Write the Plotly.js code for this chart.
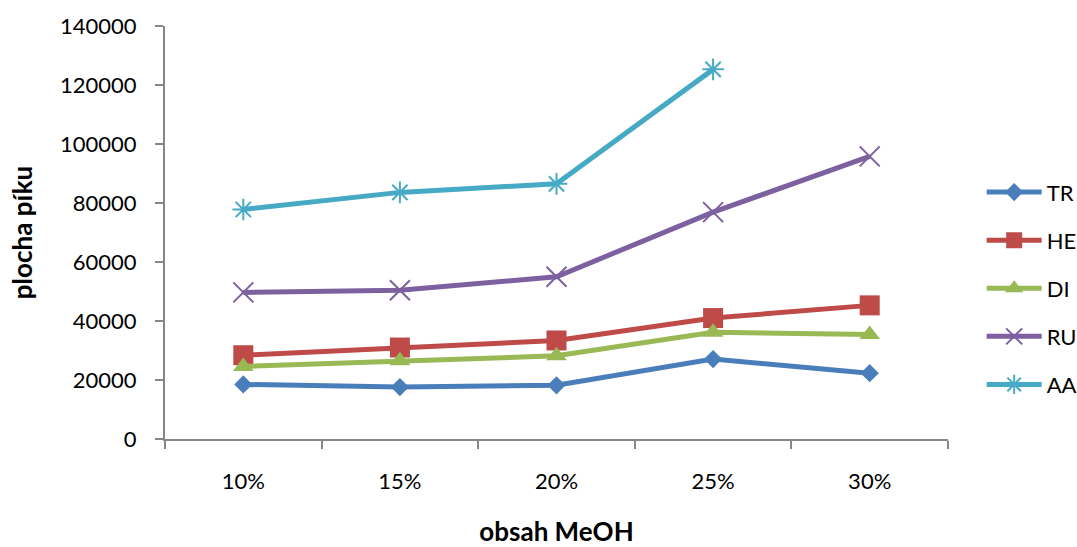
<!DOCTYPE html>
<html>
<head>
<meta charset="utf-8">
<script src="https://cdn.plot.ly/plotly-3.0.1.min.js"></script>
<style>html,body{margin:0;padding:0;background:#fff;}#chart{width:1077px;height:547px;}</style>
</head>
<body>
<div id="chart"></div>
<script>
const categories = ["10%", "15%", "20%", "25%", "30%"];
const seriesNames = ["TR", "HE", "DI", "RU", "AA"];
const TR = [18500, 17600, 18200, 27100, 22300];
const HE = [28400, 31000, 33400, 41000, 45300];
const DI = [24600, 26500, 28200, 36200, 35400];
const RU = [49700, 50400, 55000, 76900, 95800];
const AA = [77800, 83600, 86500, 125300, null];
const yTicks = [0, 20000, 40000, 60000, 80000, 100000, 120000, 140000];

const colors = ["#4A7EBB", "#BE4B48", "#98B954", "#7D60A0", "#46AAC5"];
const symbols = ["diamond", "square", "triangle-up", "x-thin-open", "asterisk-open"];
const sizes = [14, 20, 18, 20, 18];
const values = [TR, HE, DI, RU, AA];
const FONT = "Lato, 'Open Sans', 'Liberation Sans', sans-serif";

const traces = values.map((v, i) => ({
  type: "scatter",
  mode: "lines+markers",
  name: seriesNames[i],
  legendgroup: seriesNames[i],
  x: categories,
  y: v,
  connectgaps: false,
  line: {color: colors[i], width: 5},
  marker: {
    symbol: symbols[i],
    size: sizes[i],
    color: colors[i],
    line: {color: colors[i], width: (i >= 3 ? 2 : 0)}
  }
}));

const layout = {
  width: 1077,
  height: 547,
  margin: {l: 165, r: 129, t: 26, b: 108, autoexpand: false},
  paper_bgcolor: "#ffffff",
  plot_bgcolor: "#ffffff",
  font: {family: FONT, size: 22, color: "#000"},
  showlegend: true,
  legend: {
    x: 1.043, xanchor: "left",
    y: 0.365, yanchor: "middle",
    traceorder: "grouped",
    tracegroupgap: 16.5,
    itemwidth: 55,
    font: {family: FONT, size: 22, color: "#000"},
    bgcolor: "rgba(0,0,0,0)",
    borderwidth: 0
  },
  xaxis: {
    type: "category",
    categoryorder: "array",
    categoryarray: categories,
    range: [-0.5, 4.5],
    showgrid: false,
    zeroline: false,
    showline: true,
    linecolor: "#868686",
    linewidth: 2,
    ticks: "outside",
    tickson: "boundaries",
    ticklen: 8,
    tickwidth: 2,
    tickcolor: "#868686",
    ticklabelstandoff: 22,
    tickfont: {family: FONT, size: 22, color: "#000"},
    title: {text: "obsah MeOH", font: {family: FONT, size: 26, color: "#000", weight: "bold"}, standoff: 33}
  },
  yaxis: {
    range: [0, 140000],
    tickvals: yTicks,
    ticktext: yTicks.map(String),
    showgrid: false,
    zeroline: false,
    showline: true,
    linecolor: "#868686",
    linewidth: 2,
    ticks: "outside",
    ticklen: 8,
    tickwidth: 2,
    tickcolor: "#868686",
    ticklabelstandoff: 14,
    tickfont: {family: FONT, size: 22, color: "#000"},
    title: {text: "plocha píku", font: {family: FONT, size: 26, color: "#000", weight: "bold"}, standoff: 20}
  }
};

Plotly.newPlot("chart", traces, layout, {displayModeBar: false, staticPlot: true});
</script>
</body>
</html>
